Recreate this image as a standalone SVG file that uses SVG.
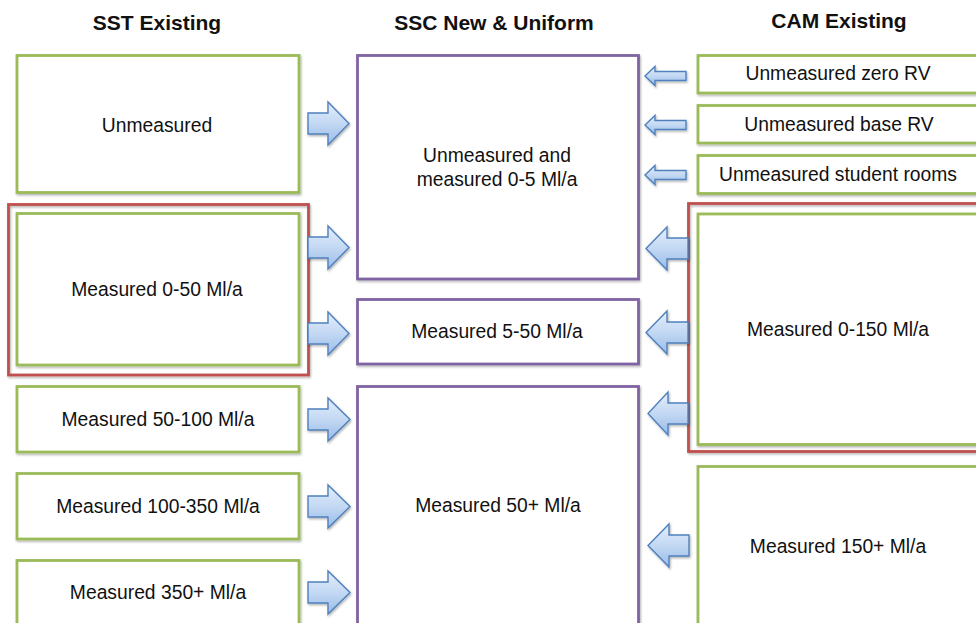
<svg xmlns="http://www.w3.org/2000/svg" width="976" height="623" viewBox="0 0 976 623">
<defs>
<linearGradient id="ag" x1="0" y1="0" x2="0" y2="1">
<stop offset="0" stop-color="#e3eefb"/>
<stop offset="0.5" stop-color="#c3d8f3"/>
<stop offset="1" stop-color="#99bbe8"/>
</linearGradient>
<filter id="sh" x="-20%" y="-20%" width="140%" height="140%">
<feDropShadow dx="1" dy="1.5" stdDeviation="1" flood-color="#000" flood-opacity="0.3"/>
</filter>
</defs>
<style>
.hd{font-family:"Liberation Sans",Arial,sans-serif;font-size:21px;font-weight:bold;fill:#111;text-anchor:middle}
.t{font-family:"Liberation Sans",Arial,sans-serif;font-size:19.3px;fill:#111;text-anchor:middle}
.g{fill:#fff;stroke:#9bbb59;stroke-width:2.8;filter:url(#sh)}
.p{fill:#fff;stroke:#8064a2;stroke-width:2.8;filter:url(#sh)}
.r{fill:none;stroke:#c0504d;stroke-width:2.8;filter:url(#sh)}
.a{fill:url(#ag);stroke:#4f81bd;stroke-width:1.4;stroke-linejoin:miter;filter:url(#sh)}
</style>
<rect width="976" height="623" fill="#fff"/>
<text class="hd" x="157" y="30">SST Existing</text>
<text class="hd" x="494" y="30">SSC New &amp; Uniform</text>
<text class="hd" x="839" y="28">CAM Existing</text>

<g id="sst-unmeasured"><rect class="g" x="17" y="55.5" width="282" height="137"/><text class="t" x="157" y="132">Unmeasured</text></g>
<g id="sst-group-red"><rect class="r" x="8.5" y="204.5" width="300" height="170.5"/></g>
<g id="sst-0-50"><rect class="g" x="17" y="213.5" width="282" height="151.5"/><text class="t" x="157" y="296">Measured 0-50 Ml/a</text></g>
<g id="sst-50-100"><rect class="g" x="17" y="386.5" width="282" height="65.5"/><text class="t" x="158" y="426">Measured 50-100 Ml/a</text></g>
<g id="sst-100-350"><rect class="g" x="17" y="473.5" width="282" height="65.5"/><text class="t" x="158" y="513">Measured 100-350 Ml/a</text></g>
<g id="sst-350"><rect class="g" x="17" y="560.5" width="282" height="80"/><text class="t" x="158" y="599">Measured 350+ Ml/a</text></g>

<g id="ssc-0-5"><rect class="p" x="357.5" y="55.5" width="281" height="223.5"/><text class="t" x="497" y="162">Unmeasured and</text><text class="t" x="497" y="186">measured 0-5 Ml/a</text></g>
<g id="ssc-5-50"><rect class="p" x="357.5" y="299.5" width="281" height="64.5"/><text class="t" x="497" y="338">Measured 5-50 Ml/a</text></g>
<g id="ssc-50"><rect class="p" x="357.5" y="386.5" width="281" height="260"/><text class="t" x="498" y="512">Measured 50+ Ml/a</text></g>

<g id="cam-zero"><rect class="g" x="698" y="55.5" width="300" height="37.5"/><text class="t" x="838" y="80">Unmeasured zero RV</text></g>
<g id="cam-base"><rect class="g" x="698" y="105.5" width="300" height="37.5"/><text class="t" x="839" y="131">Unmeasured base RV</text></g>
<g id="cam-student"><rect class="g" x="698" y="155.5" width="300" height="38"/><text class="t" x="838" y="181">Unmeasured student rooms</text></g>
<g id="cam-group-red"><rect class="r" x="688.5" y="203.5" width="310" height="248"/></g>
<g id="cam-0-150"><rect class="g" x="698" y="214" width="300" height="230.5"/><text class="t" x="838" y="336">Measured 0-150 Ml/a</text></g>
<g id="cam-150"><rect class="g" x="698" y="466.5" width="300" height="180"/><text class="t" x="838" y="553">Measured 150+ Ml/a</text></g>

<g id="connectors">
<polygon class="a" points="308,113 328,113 328,102 349,123.5 328,145 328,134 308,134"/>
<polygon class="a" points="308,237 328,237 328,226 349,247.5 328,269 328,258 308,258"/>
<polygon class="a" points="308,323 328,323 328,312 349,333.5 328,355 328,344 308,344"/>
<polygon class="a" points="308,409 328,409 328,398 350,419.5 328,441 328,430 308,430"/>
<polygon class="a" points="308,496 328,496 328,485 350,506.5 328,528 328,517 308,517"/>
<polygon class="a" points="308,582 328,582 328,571 350,592.5 328,614 328,603 308,603"/>

<polygon class="a" points="686,71.5 655,71.5 655,66.5 645,76 655,85.5 655,80.5 686,80.5"/>
<polygon class="a" points="686,120.5 655,120.5 655,115.5 645,125 655,134.5 655,129.5 686,129.5"/>
<polygon class="a" points="686,170.5 655,170.5 655,165.5 645,175 655,184.5 655,179.5 686,179.5"/>

<polygon class="a" points="688,238 667,238 667,227 646,248.5 667,270 667,259 688,259"/>
<polygon class="a" points="688,322 667,322 667,311 646,332.5 667,354 667,343 688,343"/>
<polygon class="a" points="688,403 668,403 668,392 648,413.5 668,435 668,424 688,424"/>
<polygon class="a" points="689,535 669,535 669,524 648,545.5 669,567 669,556 689,556"/>
</g>
</svg>
